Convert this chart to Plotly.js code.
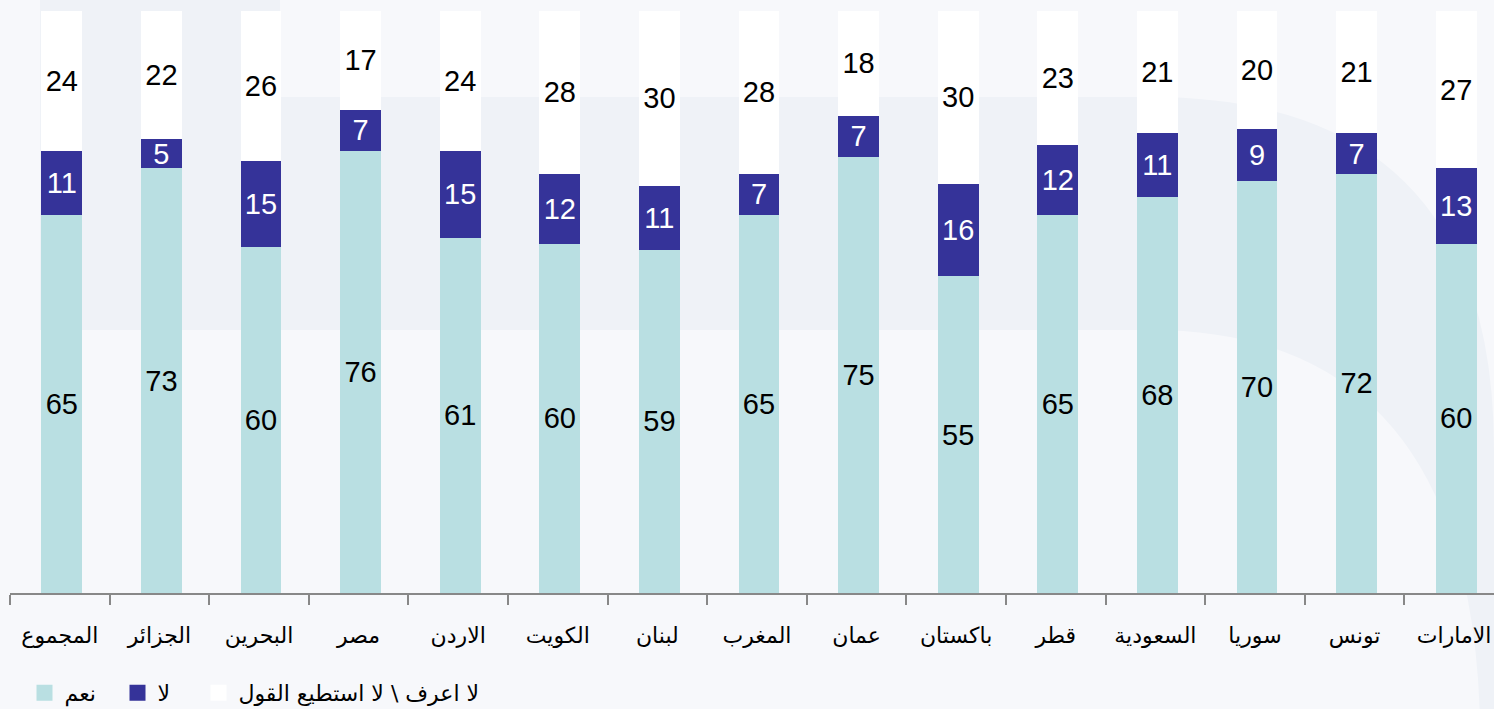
<!DOCTYPE html>
<html>
<head>
<meta charset="utf-8">
<script src="https://cdn.plot.ly/plotly-3.0.1.min.js"></script>
<style>
  html, body { margin: 0; padding: 0; background: #f6f8fb; }
  #chart { width: 1494px; height: 709px; }
</style>
</head>
<body>
<div id="chart"></div>
<script>
// ---- data ----
const categories = ["المجموع", "الجزائر", "البحرين", "مصر", "الاردن", "الكويت", "لبنان", "المغرب", "عمان", "باكستان", "قطر", "السعودية", "سوريا", "تونس", "الامارات"];
const yesValues   = [65, 73, 60, 76, 61, 60, 59, 65, 75, 55, 65, 68, 70, 72, 60];
const noValues    = [11, 5, 15, 7, 15, 12, 11, 7, 7, 16, 12, 11, 9, 7, 13];
const dkValues    = [24, 22, 26, 17, 24, 28, 30, 28, 18, 30, 23, 21, 20, 21, 27];
const seriesNames = ["نعم", "لا", "لا اعرف \\ لا استطيع القول"];

// ---- styling ----
const colors = ["#b9dfe2", "#353399", "#ffffff"];
const textColors = ["#000000", "#ffffff", "#000000"];
const numFont = "Liberation Sans, Arial, sans-serif";
const arFont = "DejaVu Sans, sans-serif";

const W = 1494, H = 709;
const L = 10, R = 0, T = 11, B = 116;
const pw = W - L - R, ph = H - T - B;
function px2x(px) { return (px - L) / pw; }
function px2y(py) { return (H - B - py) / ph; }

function bar(vals, i) {
  return {
    type: "bar",
    name: seriesNames[i],
    x: categories,
    y: vals,
    width: 0.41,
    offset: -0.185,
    text: vals.map(String),
    texttemplate: "%{text}",
    textposition: "inside",
    insidetextanchor: "middle",
    textangle: 0,
    constraintext: "none",
    textfont: { family: numFont, size: 29, color: textColors[i] },
    marker: { color: colors[i], line: { width: 0 } },
    showlegend: false,
    hoverinfo: "skip"
  };
}
const legendIds = ["legend", "legend2", "legend3"];
function legendTrace(i) {
  return {
    type: "scatter",
    mode: "markers",
    name: seriesNames[i],
    legend: legendIds[i],
    x: [null], y: [null],
    marker: { symbol: "square", size: 16, color: colors[i], line: { width: 0 } },
    showlegend: true,
    hoverinfo: "skip"
  };
}

const data = [bar(yesValues, 0), bar(noValues, 1), bar(dkValues, 2),
              legendTrace(0), legendTrace(1), legendTrace(2)];

// faint watermark band
function P(px, py) { return px2x(px).toFixed(5) + "," + px2y(py).toFixed(5); }
const bandPath =
  "M" + P(40, -5) + " L" + P(280, -5) + " L" + P(280, 97) + " L" + P(1150, 97) +
  " Q" + P(1494, 97) + " " + P(1494, 450) + " L" + P(1494, 720) + " L" + P(1480, 720) +
  " Q" + P(1470, 330) + " " + P(1150, 330) + " L" + P(40, 330) + " Z";

const symCenters = [45, 138, 219];
function legendCfg(i) {
  return {
    orientation: "h",
    xref: "container", yref: "container",
    x: (symCenters[i] - 20.5) / W, y: 1 - 693 / H,
    xanchor: "left", yanchor: "middle",
    bgcolor: "rgba(0,0,0,0)",
    borderwidth: 0,
    font: { family: arFont, size: 22, color: "#000" }
  };
}

const layout = {
  width: W, height: H,
  margin: { l: L, r: R, t: T, b: B, pad: 0 },
  paper_bgcolor: "#f7f8fb",
  plot_bgcolor: "rgba(0,0,0,0)",
  barmode: "stack",
  barnorm: "percent",
  font: { family: numFont, color: "#000" },
  xaxis: {
    type: "category",
    range: [-0.5, 14.4],
    tickson: "boundaries",
    ticks: "outside",
    ticklen: 10,
    tickwidth: 2,
    tickcolor: "#888888",
    showline: true,
    linecolor: "#888888",
    linewidth: 2,
    showgrid: false,
    zeroline: false,
    ticklabelstandoff: 22,
    tickfont: { family: arFont, size: 22, color: "#000" },
    fixedrange: true
  },
  yaxis: {
    range: [0, 100],
    visible: false,
    showgrid: false,
    zeroline: false,
    fixedrange: true
  },
  showlegend: true,
  legend: legendCfg(0),
  legend2: legendCfg(1),
  legend3: legendCfg(2),
  shapes: [
    { type: "path", xref: "paper", yref: "paper", layer: "below",
      path: bandPath, fillcolor: "#eff2f7", line: { width: 0 } }
  ]
};

Plotly.newPlot("chart", data, layout, { displayModeBar: false, staticPlot: true });
</script>
</body>
</html>
